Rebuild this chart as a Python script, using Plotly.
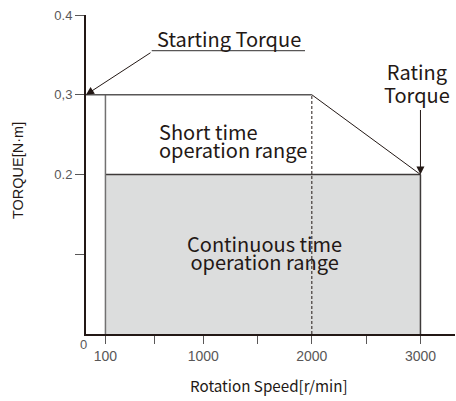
import plotly.graph_objects as go

# ---- data ----
speed_ticks = [100, 550, 1000, 1500, 2000, 2500, 3000]
speed_ticktext = ["100", "", "1000", "", "2000", "", "3000"]
torque_ticks = [0.1, 0.2, 0.3, 0.4]
torque_ticktext = ["", "0.2", "0,3", "0.4"]

cont_speed = [100, 100, 3000, 3000]          # continuous region outline
cont_torque = [0, 0.2, 0.2, 0]
short_speed = [2000, 3000]                   # short-time limit (knee -> rating)
short_torque = [0.3, 0.2]
start_torque = 0.3
rated_speed = 3000
rated_torque = 0.2
knee_speed = 2000
base_speed = 100

X_MIN, X_MAX = -79, 3318
Y_MIN, Y_MAX = 0, 0.4

W, H = 456, 401
ML, MR, MT, MB = 86, 1, 15, 67
PW, PH = W - ML - MR, H - MT - MB

def pap(xp, yp):
    return (xp - ML) / PW, 1 - (yp - MT) / PH

DARK = "#231815"
GRAY = "#595757"
TXT_FONT = "Noto Sans CJK KR"
TICK_FONT = "Liberation Sans"

fig = go.Figure()

# continuous region fill
fig.add_trace(go.Scatter(x=cont_speed, y=cont_torque, fill="toself",
                         fillcolor="#dcdddd", mode="none", hoverinfo="skip"))
# top of continuous region
fig.add_trace(go.Scatter(x=[base_speed, rated_speed], y=[rated_torque, rated_torque],
                         mode="lines", line=dict(color="#3e3a39", width=1.5)))
# right edge at rated speed
fig.add_trace(go.Scatter(x=[rated_speed, rated_speed], y=[0, rated_torque],
                         mode="lines", line=dict(color="#3e3a39", width=1.5)))
# left edge at base speed
fig.add_trace(go.Scatter(x=[base_speed, base_speed], y=[0, start_torque],
                         mode="lines", line=dict(color="#727171", width=1.5)))
# starting torque line
fig.add_trace(go.Scatter(x=[X_MIN, knee_speed], y=[start_torque, start_torque],
                         mode="lines", line=dict(color=GRAY, width=1.3)))
# diagonal
fig.add_trace(go.Scatter(x=short_speed, y=short_torque,
                         mode="lines", line=dict(color=DARK, width=1)))
# dashed at knee
fig.add_trace(go.Scatter(x=[knee_speed, knee_speed], y=[0, start_torque],
                         mode="lines", line=dict(color=DARK, width=1, dash="3px,2px")))

ann = []
def txt(text, xp, yp, size=20, xanchor="left", font=TXT_FONT, color=DARK, angle=0,
        align="left"):
    x, y = pap(xp, yp)
    ann.append(dict(text=text, x=x, y=y, xref="paper", yref="paper",
                    xanchor=xanchor, yanchor="middle", showarrow=False,
                    textangle=angle, align=align,
                    font=dict(family=font, size=size, color=color)))

def two_lines(a, b, big=20):
    s = "<span style='font-size:%dpx'>%s</span>" % (big, a)
    t = "<span style='font-size:%dpx'>%s</span>" % (big, b)
    return s + "<br>" + t

txt("Starting Torque", 155, 38)
txt(two_lines("Rating", "Torque"), 416.5, 83, size=18, xanchor="center", align="center")
txt(two_lines("Short time", "operation range"), 156.7, 140, size=13.6)
txt(two_lines("Continuous time", "operation range"), 264, 252, size=14,
    xanchor="center", align="center")
txt("Rotation Speed[r/min]", 269, 385, size=15.2, xanchor="center")
txt("TORQUE[N·m]", 18, 171, size=14.5, xanchor="center", font=TICK_FONT, angle=-90)
txt("0", 83, 344, size=13, xanchor="center", font=TICK_FONT, color=GRAY)

# arrows
ann.append(dict(text="", x=X_MIN, y=start_torque, xref="x", yref="y",
                ax=66, ay=-43, showarrow=True, arrowhead=2, arrowsize=1.6,
                arrowwidth=1, arrowcolor=DARK, standoff=0))
ann.append(dict(text="", x=rated_speed, y=rated_torque, xref="x", yref="y",
                ax=0, ay=-66, showarrow=True, arrowhead=2, arrowsize=1.6,
                arrowwidth=1, arrowcolor=DARK, standoff=0))

x0, y0 = pap(151.7, 50.7)
x1, _ = pap(305, 50.7)
shapes = [dict(type="line", xref="paper", yref="paper", x0=x0, x1=x1, y0=y0, y1=y0,
               line=dict(color=GRAY, width=1.2))]

fig.update_layout(
    width=W, height=H, margin=dict(l=ML, r=MR, t=MT, b=MB),
    paper_bgcolor="white", plot_bgcolor="white", showlegend=False,
    annotations=ann, shapes=shapes,
    xaxis=dict(range=[X_MIN, X_MAX], tickvals=speed_ticks, ticktext=speed_ticktext,
               showgrid=False, zeroline=False, showline=True, linecolor=DARK, linewidth=2,
               ticks="outside", ticklen=8, tickwidth=1.2, tickcolor=GRAY,
               tickfont=dict(family=TICK_FONT, size=14, color=GRAY)),
    yaxis=dict(range=[Y_MIN, Y_MAX], tickvals=torque_ticks, ticktext=torque_ticktext,
               showgrid=False, zeroline=False, showline=True, linecolor=DARK, linewidth=2,
               ticks="outside", ticklen=9, tickwidth=1.2, tickcolor=GRAY,
               tickfont=dict(family=TICK_FONT, size=13, color=GRAY)),
)

fig.write_html("out.html", config={"displayModeBar": False},
               post_script="document.body.style.margin='0';document.body.style.overflow='hidden';")
